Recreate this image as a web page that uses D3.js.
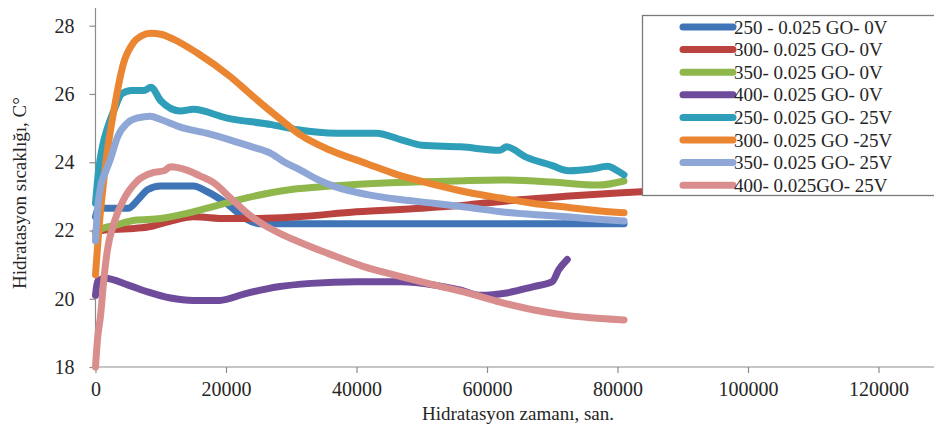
<!DOCTYPE html>
<html>
<head>
<meta charset="utf-8">
<script src="https://cdn.jsdelivr.net/npm/d3@7"></script>
<style>
  html, body { margin: 0; padding: 0; background: #fff; }
  svg { display: block; font-family: "Liberation Serif", "Times New Roman", serif; }
</style>
</head>
<body>
<svg id="chart" width="934" height="437"></svg>
<script>
// Hydration temperature (°C) versus hydration time (s)
const seriesNames = [
  "250 - 0.025 GO- 0V",
  "300- 0.025 GO- 0V",
  "350- 0.025 GO- 0V",
  "400- 0.025 GO- 0V",
  "250- 0.025 GO- 25V",
  "300- 0.025 GO -25V",
  "350- 0.025 GO- 25V",
  "400- 0.025GO- 25V"
];
const seriesColors = ["#3F74B6", "#BA423F", "#8FB74C", "#6F4B9C", "#2F9FB9", "#EA8632", "#8FA7D6", "#D98E8D"];

const s250_0V = [[0,22.4],[500,22.65],[5000,22.65],[6500,22.9],[8000,23.2],[10000,23.3],[15000,23.3],[17000,23.15],[20000,22.8],[23000,22.35],[25000,22.2],[40000,22.2],[60000,22.2],[81000,22.2]];
const s300_0V = [[0,21.95],[1000,22.0],[5000,22.05],[8000,22.1],[12000,22.3],[15000,22.4],[20000,22.35],[25000,22.35],[31000,22.4],[40000,22.55],[50000,22.65],[57000,22.75],[65000,22.9],[72000,23.0],[80000,23.1],[88000,23.18]];
const s350_0V = [[0,21.9],[1000,22.05],[3000,22.15],[6000,22.3],[10000,22.35],[14000,22.5],[18000,22.7],[23000,22.95],[30000,23.2],[36000,23.3],[45000,23.4],[55000,23.45],[62000,23.48],[70000,23.42],[77000,23.33],[81000,23.45]];
const s400_0V = [[0,20.1],[300,20.5],[1500,20.6],[5000,20.4],[8000,20.2],[11500,20.02],[15000,19.95],[19000,19.95],[23000,20.15],[28000,20.35],[33000,20.45],[40000,20.5],[47000,20.5],[52000,20.4],[56000,20.25],[59000,20.1],[63000,20.17],[67000,20.35],[70000,20.5],[71000,20.85],[72300,21.15]];
const s250_25V = [[0,22.8],[500,23.8],[1000,24.4],[2000,25.1],[3000,25.6],[4000,26.0],[5500,26.1],[7500,26.1],[8500,26.2],[10000,25.8],[13000,25.5],[15000,25.55],[20000,25.3],[27000,25.1],[31000,24.95],[37000,24.85],[43000,24.85],[47000,24.65],[50000,24.5],[56000,24.45],[62000,24.35],[63000,24.45],[66000,24.15],[70000,23.9],[72500,23.75],[76000,23.8],[78500,23.88],[80000,23.75],[81000,23.63]];
const s300_25V = [[0,20.7],[500,22.0],[1000,23.0],[1800,24.3],[2800,25.5],[4300,26.9],[5800,27.5],[7000,27.7],[8500,27.78],[10000,27.75],[12000,27.6],[15600,27.2],[20700,26.5],[24000,25.95],[28400,25.25],[31400,24.8],[36000,24.35],[41700,23.95],[46000,23.65],[51800,23.35],[57000,23.12],[62100,22.95],[67000,22.8],[72300,22.68],[77000,22.58],[81000,22.52]];
const s350_25V = [[0,21.7],[300,22.6],[800,23.3],[1500,23.7],[2300,24.1],[3400,24.75],[4900,25.15],[6500,25.3],[8400,25.35],[10000,25.25],[13000,25.03],[17000,24.85],[20700,24.65],[24000,24.45],[26800,24.27],[29000,24.0],[31400,23.77],[34000,23.5],[36500,23.3],[41700,23.05],[46000,22.92],[51800,22.8],[57000,22.68],[62100,22.55],[67000,22.47],[72300,22.4],[77000,22.33],[81000,22.28]];
const s400_25V = [[0,18.0],[300,18.8],[770,19.5],[1300,20.6],[1800,21.4],[2800,22.2],[4300,22.9],[6400,23.45],[8900,23.7],[10500,23.75],[11500,23.87],[14000,23.77],[16000,23.6],[18100,23.4],[20700,22.95],[23300,22.5],[25500,22.2],[28400,21.9],[31400,21.65],[36000,21.3],[41000,20.95],[46800,20.65],[52000,20.4],[57000,20.17],[62000,19.9],[67200,19.67],[72000,19.52],[77400,19.42],[81000,19.38]];

const seriesData = [s250_0V, s300_0V, s350_0V, s400_0V, s250_25V, s300_25V, s350_25V, s400_25V];

const xTicks = [0, 20000, 40000, 60000, 80000, 100000, 120000];
const yTicks = [18, 20, 22, 24, 26, 28];

const xTitle = "Hidratasyon zamanı, san.";
const yTitle = "Hidratasyon sıcaklığı, C°";

const svg = d3.select("#chart");
const W = 934, H = 437;

const x = d3.scaleLinear().domain([0, 140000]).range([95.5, 1009]);
const y = d3.scaleLinear().domain([18, 28]).range([367, 25.7]);

const axisColor = "#8c8c8c";
const textColor = "#262626";

// y axis
const gy = svg.append("g").attr("transform", `translate(${x(0)},0)`)
  .call(d3.axisLeft(y).tickValues(yTicks).tickSize(6).tickPadding(15).tickFormat(d3.format("d")));
gy.select(".domain").attr("d", `M-0,${y(18)}V8`);
gy.selectAll("path, line").attr("stroke", axisColor).attr("stroke-width", 1.2);
gy.selectAll("text").attr("font-size", 20).attr("fill", textColor).attr("font-family", "Liberation Serif");

// x axis
const gx = svg.append("g").attr("transform", `translate(0,${y(18)})`)
  .call(d3.axisBottom(x).tickValues(xTicks).tickSize(6).tickPadding(9).tickFormat(d3.format("d")));
gx.select(".domain").attr("d", `M${x(0)},0H${W}`);
gx.selectAll("path, line").attr("stroke", axisColor).attr("stroke-width", 1.2);
gx.selectAll("text").attr("font-size", 20).attr("fill", textColor).attr("font-family", "Liberation Serif");

// axis titles
svg.append("text")
  .attr("x", 518).attr("y", 420)
  .attr("text-anchor", "middle")
  .attr("font-size", 19).attr("fill", textColor)
  .text(xTitle);

svg.append("text")
  .attr("transform", `translate(26,193) rotate(-90)`)
  .attr("text-anchor", "middle")
  .attr("font-size", 19).attr("fill", textColor)
  .text(yTitle);

// series lines, later series drawn on top
const line = d3.line()
  .x(d => x(d[0]))
  .y(d => y(d[1]))
  .curve(d3.curveMonotoneX);

svg.append("g").selectAll("path")
  .data(seriesData)
  .join("path")
  .attr("d", line)
  .attr("fill", "none")
  .attr("stroke", (d, i) => seriesColors[i])
  .attr("stroke-width", 7)
  .attr("stroke-linejoin", "round")
  .attr("stroke-linecap", "round");

// legend
const legend = svg.append("g");
legend.append("rect")
  .attr("x", 642.5).attr("y", 15.5)
  .attr("width", 320).attr("height", 180)
  .attr("fill", "#fff")
  .attr("stroke", "#7a7a7a").attr("stroke-width", 1.3);

const rows = legend.selectAll("g.row")
  .data(seriesNames)
  .join("g")
  .attr("class", "row")
  .attr("transform", (d, i) => `translate(0,${27 + i * 22.6})`);

rows.append("line")
  .attr("x1", 683).attr("x2", 733)
  .attr("y1", 0).attr("y2", 0)
  .attr("stroke", (d, i) => seriesColors[i])
  .attr("stroke-width", 7)
  .attr("stroke-linecap", "round");

rows.append("text")
  .attr("x", 734).attr("y", 0)
  .attr("dy", "0.35em")
  .attr("font-size", 19).attr("fill", textColor)
  .text(d => d);
</script>
</body>
</html>
